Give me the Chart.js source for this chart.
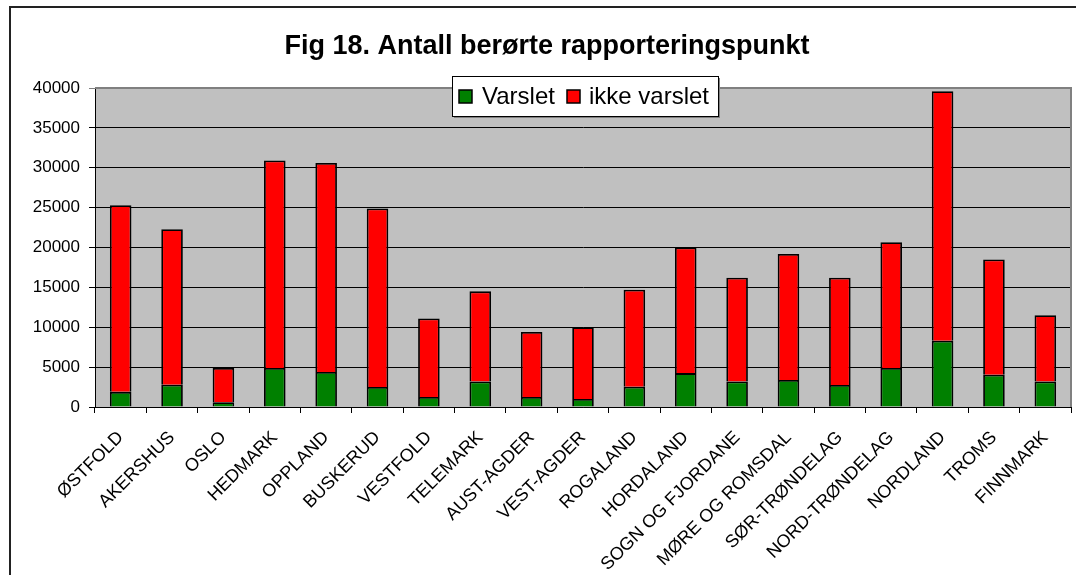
<!DOCTYPE html>
<html>
<head>
<meta charset="utf-8">
<script src="https://cdn.jsdelivr.net/npm/chart.js@4.4.0/dist/chart.umd.min.js"></script>
<style>
  html, body { margin: 0; padding: 0; background: #fff; }
  #wrap { width: 1076px; height: 575px; }
</style>
</head>
<body>
<div id="wrap"><canvas id="c" width="1076" height="575"></canvas></div>
<script>
const titleText = "Fig 18. Antall berørte rapporteringspunkt";
const categories = ["ØSTFOLD", "AKERSHUS", "OSLO", "HEDMARK", "OPPLAND", "BUSKERUD", "VESTFOLD", "TELEMARK", "AUST-AGDER", "VEST-AGDER", "ROGALAND", "HORDALAND", "SOGN OG FJORDANE", "MØRE OG ROMSDAL", "SØR-TRØNDELAG", "NORD-TRØNDELAG", "NORDLAND", "TROMS", "FINNMARK"];
const varslet = [1900, 2800, 600, 4900, 4400, 2500, 1250, 3200, 1250, 1000, 2550, 4250, 3200, 3400, 2750, 4900, 8300, 4050, 3200];
const ikkeVarslet = [23400, 19500, 4300, 26000, 26200, 22400, 9850, 11300, 8150, 9000, 12150, 15750, 13000, 15800, 13450, 15750, 31300, 14450, 8300];
const yTicks = [0, 5000, 10000, 15000, 20000, 25000, 30000, 35000, 40000];

const FONT = "'Liberation Sans', Arial, sans-serif";

const decor = {
  id: 'decor',
  beforeDraw(chart) {
    const ctx = chart.ctx, a = chart.chartArea;
    ctx.save();
    ctx.fillStyle = '#fff';
    ctx.fillRect(0, 0, chart.width, chart.height);
    ctx.strokeStyle = '#222';
    ctx.lineWidth = 2;
    ctx.strokeRect(10, 7, 1200, 1000);
    ctx.fillStyle = '#c0c0c0';
    ctx.fillRect(a.left, a.top, a.right - a.left, a.bottom - a.top);
    ctx.restore();
  },
  beforeDatasetsDraw(chart) {
    const ctx = chart.ctx, a = chart.chartArea;
    ctx.save();
    ctx.strokeStyle = '#808080';
    ctx.lineWidth = 2;
    ctx.beginPath();
    ctx.moveTo(a.left, a.top);
    ctx.lineTo(a.right, a.top);
    ctx.lineTo(a.right, a.bottom);
    ctx.stroke();
    ctx.restore();
  },
  afterDraw(chart) {
    const ctx = chart.ctx;
    ctx.save();
    ctx.fillStyle = '#000';
    ctx.font = "bold 27px " + FONT;
    ctx.textAlign = 'center';
    ctx.textBaseline = 'alphabetic';
    ctx.fillText(titleText, 547, 54);
    const bx = 452, by = 76, bw = 266, bh = 40;
    ctx.fillStyle = '#808080';
    ctx.fillRect(bx + 2, by + 2, bw, bh);
    ctx.fillStyle = '#fff';
    ctx.fillRect(bx, by, bw, bh);
    ctx.strokeStyle = '#000';
    ctx.lineWidth = 1;
    ctx.strokeRect(bx + 0.5, by + 0.5, bw, bh);
    ctx.font = "24px " + FONT;
    ctx.textAlign = 'left';
    const items = [{x: 459, tx: 482}, {x: 567, tx: 589}];
    chart.data.datasets.forEach((ds, i) => {
      const it = items[i];
      ctx.fillStyle = ds.backgroundColor;
      ctx.fillRect(it.x, 90, 13, 13);
      ctx.strokeStyle = '#000';
      ctx.lineWidth = 1.5;
      ctx.strokeRect(it.x, 90, 13, 13);
      ctx.fillStyle = '#000';
      ctx.fillText(ds.label, it.tx, 104);
    });
    ctx.restore();
  }
};

new Chart(document.getElementById('c'), {
  type: 'bar',
  data: {
    labels: categories,
    datasets: [
      { label: 'Varslet', data: varslet, backgroundColor: '#008000', borderColor: '#000', borderWidth: 1.8, barPercentage: 0.42, categoryPercentage: 1 },
      { label: 'ikke varslet', data: ikkeVarslet, backgroundColor: '#ff0000', borderColor: '#000', borderWidth: 1.8, barPercentage: 0.42, categoryPercentage: 1 }
    ]
  },
  options: {
    responsive: false,
    animation: false,
    layout: { padding: { left: 10, right: 5, top: 88, bottom: 0 } },
    plugins: {
      legend: { display: false },
      title: { display: false },
      tooltip: { enabled: false }
    },
    scales: {
      x: {
        stacked: true,
        afterFit(s) { s.height = 168; },
        grid: { drawOnChartArea: false, drawTicks: true, tickLength: 6, color: '#000', offset: true },
        border: { color: '#000', width: 1 },
        ticks: {
          autoSkip: false, maxRotation: 45, minRotation: 45, padding: 14,
          color: '#000', font: { family: FONT, size: 18 }
        }
      },
      y: {
        stacked: true,
        min: 0, max: 40000,
        afterFit(s) { s.width = 85; },
        afterBuildTicks(s) { s.ticks = yTicks.map(v => ({ value: v })); },
        grid: {
          color: (c) => (c.tick && c.tick.value === 40000) ? '#808080' : '#000',
          lineWidth: 1, tickLength: 6, drawTicks: true
        },
        border: { color: '#000', width: 1 },
        ticks: { padding: 9, color: '#000', font: { family: FONT, size: 17 }, callback: (v) => String(v) }
      }
    }
  },
  plugins: [decor]
});
</script>
</body>
</html>
